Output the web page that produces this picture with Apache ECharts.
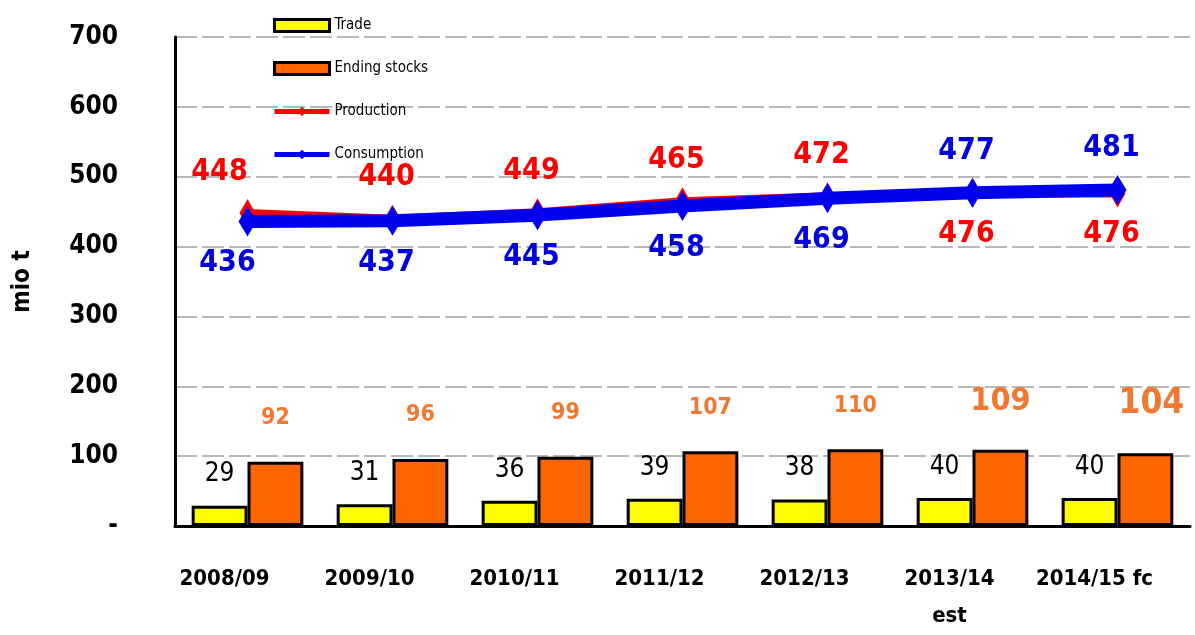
<!DOCTYPE html>
<html>
<head>
<meta charset="utf-8">
<script src="https://cdn.jsdelivr.net/npm/echarts@6/dist/echarts.min.js"></script>
<style>
  html, body { margin: 0; padding: 0; background: #fff; }
  #main { width: 1195px; height: 635px; }
</style>
</head>
<body>
<div id="main"></div>
<script>
// 数据
var years = ['2008/09', '2009/10', '2010/11', '2011/12', '2012/13', '2013/14\nest', '2014/15 fc'];
var trade = [29, 31, 36, 39, 38, 40, 40];
var endingStocks = [92, 96, 99, 107, 110, 109, 104];
var production = [448, 440, 449, 465, 472, 476, 476];
var consumption = [436, 437, 445, 458, 469, 477, 481];
var yTicks = [0, 100, 200, 300, 400, 500, 600, 700];

var FONT = '"Liberation Sans Narrow", "Arial Narrow", "DejaVu Sans Condensed", sans-serif';

var myChart = echarts.init(document.getElementById('main'));

// 生产/消费标签：数值大的在上方
var prodData = production.map(function (v, i) {
  var up = v >= consumption[i];
  return {
    value: v,
    label: { position: up ? 'top' : 'bottom', offset: i === 0 ? [-28, 0] : [-6, 0] }
  };
});
var consData = consumption.map(function (v, i) {
  var up = v > production[i];
  return {
    value: v,
    label: { position: up ? 'top' : 'bottom', offset: i === 0 ? [-20, 0] : [-6, 0] }
  };
});
var stockData = endingStocks.map(function (v, i) {
  return {
    value: v,
    label: {
      fontSize: i === 6 ? 35 : (i === 5 ? 32 : 23),
      offset: i === 6 ? [6, 0] : [0, 0]
    }
  };
});

var options = {
  backgroundColor: '#fff',
  animation: false,
  textStyle: { fontFamily: FONT },
  grid: { left: 175, right: 5, top: 37, bottom: 109, containLabel: false, outerBoundsMode: 'none' },
  legend: {
    orient: 'vertical',
    left: 267,
    top: 13,
    itemGap: 28,
    itemWidth: 55,
    itemHeight: 12,
    textStyle: { fontFamily: FONT, fontSize: 15, color: '#000' },
    data: [
      { name: 'Trade', icon: 'rect', itemStyle: { borderWidth: 3 } },
      { name: 'Ending stocks', icon: 'rect', itemStyle: { borderWidth: 3 } },
      { name: 'Production', lineStyle: { width: 5 } },
      { name: 'Consumption', lineStyle: { width: 5 } }
    ]
  },
  xAxis: {
    type: 'category',
    data: years,
    axisLine: { lineStyle: { color: '#000', width: 3 } },
    axisTick: { show: false },
    axisLabel: {
      interval: 0,
      margin: 35,
      color: '#000',
      fontSize: 22,
      fontWeight: 'bold',
      fontFamily: FONT,
      lineHeight: 37,
      padding: [0, 46, 0, 0]
    }
  },
  yAxis: {
    type: 'value',
    min: 0,
    max: 700,
    interval: 100,
    name: 'mio t',
    nameLocation: 'middle',
    nameGap: 140,
    nameRotate: 90,
    nameTextStyle: { fontFamily: FONT, fontSize: 24, fontWeight: 'bold', color: '#000' },
    axisLine: { show: true, lineStyle: { color: '#000', width: 3 } },
    axisTick: { show: false },
    axisLabel: {
      margin: 57,
      color: '#000',
      fontSize: 26,
      fontWeight: 'bold',
      fontFamily: FONT,
      formatter: function (v) { return v === yTicks[0] ? '-' : String(v); }
    },
    splitLine: { show: true, lineStyle: { color: '#b8b8b8', width: 2, type: [22, 5] } }
  },
  series: [
    {
      name: 'Trade',
      type: 'bar',
      barGap: '0%',
      barCategoryGap: '23%',
      itemStyle: { color: '#ffff00', borderColor: '#000', borderWidth: 3 },
      label: {
        show: true, position: 'top', distance: 18,
        color: '#000', fontSize: 26, fontFamily: FONT, fontWeight: 'normal'
      },
      data: trade
    },
    {
      name: 'Ending stocks',
      type: 'bar',
      itemStyle: { color: '#ff6600', borderColor: '#000', borderWidth: 3 },
      label: {
        show: true, position: 'top', distance: 32,
        color: '#f07830', fontFamily: FONT, fontWeight: 'bold'
      },
      data: stockData
    },
    {
      name: 'Production',
      type: 'line',
      z: 3,
      symbol: 'diamond',
      symbolSize: [16, 28],
      lineStyle: { color: '#ff0000', width: 8 },
      itemStyle: { color: '#ff0000' },
      label: {
        show: true, distance: 12,
        color: '#ff0000', fontSize: 30, fontWeight: 'bold', fontFamily: FONT
      },
      data: prodData
    },
    {
      name: 'Consumption',
      type: 'line',
      z: 4,
      symbol: 'diamond',
      symbolSize: [18, 30],
      lineStyle: { color: '#0000ee', width: 13 },
      itemStyle: { color: '#0000ee' },
      label: {
        show: true, distance: 12,
        color: '#0000dd', fontSize: 30, fontWeight: 'bold', fontFamily: FONT
      },
      data: consData
    }
  ]
};
myChart.setOption(options);
</script>
</body>
</html>
